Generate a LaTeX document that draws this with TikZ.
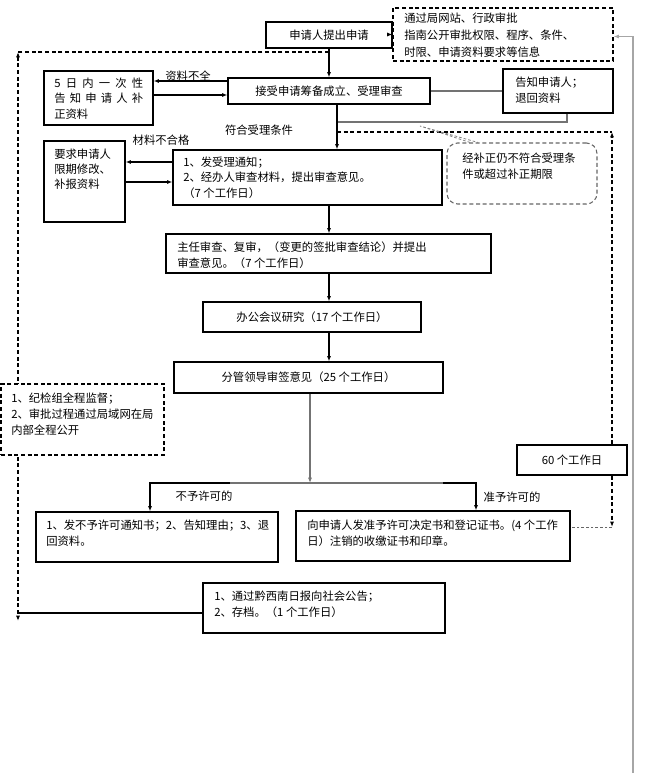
\documentclass[tikz,border=0pt]{standalone}
\usepackage{fontspec}
\setmainfont{Noto Sans CJK SC}
\usetikzlibrary{arrows.meta,calc}
\begin{document}
\begin{tikzpicture}[x=0.75pt,y=-0.75pt, font=\fontsize{8.5pt}{12pt}\selectfont,
  box/.style={draw, line width=0.8pt, fill=white, inner sep=0pt},
  dbox/.style={box, dash pattern=on 3pt off 2pt},
  wh/.style 2 args={minimum width=#1*0.75pt, minimum height=#2*0.75pt},
  txt/.style={anchor=north west, inner sep=0pt, align=left},
  lbl/.style={inner sep=0pt},
  arr/.style={-{Latex[length=4pt,width=3pt]}, line width=0.8pt},
  gline/.style={draw=black!55, line width=0.9pt},
  dline/.style={dash pattern=on 3pt off 2pt, line width=0.8pt}]

\useasboundingbox (0,0) rectangle (653,782);

% helper coordinates
\coordinate (tl) at (18,52);
\coordinate (tj) at (329,52);
\coordinate (bl) at (18,621);
\coordinate (fl) at (18,613);
\coordinate (ax) at (329,0);
\coordinate (dj) at (337,132);
\coordinate (dj2) at (337,122);
\coordinate (dc) at (612,132);
\coordinate (dd) at (612,527);
\coordinate (br) at (310,483);
\coordinate (rb) at (633,773);
\coordinate (tip) at (420,126);

% left dashed loop (behind boxes)
\draw[dline] (tj) -- (tl);
\draw[dline, {Latex[length=4pt,width=3pt]}-{Latex[length=4pt,width=3pt]}] (tl) -- (bl);

% boxes
\node[box, wh={126}{26}] (apply) at (329,35) {申请人提出申请};
\node[dbox, wh={220}{53}] (info) at (503,34.5) {};
\node[txt, font=\fontsize{8.5pt}{12.75pt}\selectfont] at (404,12.5) {通过局网站、行政审批\\指南公开审批权限、程序、条件、\\时限、申请资料要求等信息};

\node[box, wh={202}{26}] (accept) at (329,91) {接受申请筹备成立、受理审查};

\node[box, wh={109}{54}] (five) at (98.5,98) {};
\node[txt, font=\fontsize{8.5pt}{11.6pt}\selectfont] at (54,77.5) {\makebox[66.75pt][s]{5\hfill 日\hfill 内\hfill 一\hfill 次\hfill 性}\\\makebox[66.75pt][s]{告\hfill 知\hfill 申\hfill 请\hfill 人\hfill 补}\\正资料};

\node[box, wh={110}{44}] (tell) at (558,91) {};
\node[txt] at (515,76.5) {告知申请人；\\退回资料};

\node[box, wh={81}{81}] (req) at (84.5,181.5) {};
\node[txt, font=\fontsize{8.5pt}{11.5pt}\selectfont] at (54,148.5) {要求申请人\\限期修改、\\补报资料};

\node[box, wh={269}{55}] (rev1) at (307.5,177.5) {};
\node[txt, font=\fontsize{8.5pt}{11.6pt}\selectfont] at (183,156.5) {1、发受理通知；\\2、经办人审查材料，提出审查意见。\\（7 个工作日）};

\node[box, wh={325}{39}] (dir) at (328.5,253.5) {};
\node[txt] at (177,241.5) {主任审查、复审，（变更的签批审查结论）并提出\\审查意见。（7 个工作日）};

\node[box, wh={218}{30}] (meet) at (312,317) {办公会议研究（17 个工作日）};
\node[box, wh={269}{31}] (lead) at (308.5,377.5) {分管领导审签意见（25 个工作日）};

\node[dbox, wh={163}{71}] (sup) at (82.5,419.5) {};
\node[txt] at (11,392.5) {1、纪检组全程监督；\\2、审批过程通过局域网在局\\内部全程公开};

\node[box, wh={110}{30}] (d60) at (572,460) {60 个工作日};

\node[box, wh={242}{50}] (deny) at (157,537) {};
\node[txt] at (46,519.5) {1、发不予许可通知书；2、告知理由；3、退\\回资料。};

\node[box, wh={274}{50}] (grant) at (433,536) {};
\node[txt] at (307,519.5) {向申请人发准予许可决定书和登记证书。(4 个工作\\日）注销的收缴证书和印章。};

\node[box, wh={242}{50}] (final) at (324,608) {};
\node[txt] at (214,590.5) {1、通过黔西南日报向社会公告；\\2、存档。（1 个工作日）};

\node[box, draw=black!60, dash pattern=on 3pt off 2pt, rounded corners=8pt, wh={150}{61}] (note) at (522,173.5) {};
\node[txt] at (462,152.5) {经补正仍不符合受理条\\件或超过补正期限};

% labels
\node[lbl] (l1) at (188,76) {资料不全};
\node[lbl] (l2) at (259,130) {符合受理条件};
\node[lbl] (l3) at (161,140) {材料不合格};
\node[lbl] (l4) at (204,496) {不予许可的};
\node[lbl] (l5) at (512,497) {准予许可的};

% connectors
\draw[arr] (info.west) -- (apply.east |- info.west);
\draw[arr] (apply) -- (accept);
\draw[arr] ([yshift=7.5pt]accept.west) -- ([yshift=12.75pt]five.east);
\draw[arr] ([yshift=2.25pt]five.east) -- ([yshift=-3pt]accept.west);
\draw[gline] (accept) -- (tell);
\draw[gline] ([xshift=6.75pt]tell.south) |- (dj2);
\draw[arr] (accept.south -| dj) -- (rev1.north -| dj);
\draw[arr] ([yshift=11.625pt]rev1.west) -- ([yshift=14.625pt]req.east);
\draw[arr] ([yshift=-0.375pt]req.east) -- ([yshift=-3.375pt]rev1.west);
\draw[arr] (rev1.south -| ax) -- (dir.north -| ax);
\draw[arr] (dir.south -| ax) -- (meet.north -| ax);
\draw[arr] (meet.south -| ax) -- (lead.north -| ax);
\draw[arr, draw=black!55] (lead.south -| br) -- (br);
\draw[arr] (br) -| ([xshift=-5.25pt]deny.north);
\draw[arr] (br) -| ([xshift=32.25pt]grant.north);
\draw[gline] ([xshift=-60pt]br) -- ([xshift=100pt]br);
\draw[line width=0.8pt] (fl) -- (fl -| final.west);

\draw[dline] (dj) -- (dc);
\draw[dline, arr] ([xshift=30pt]d60.north) -- (dc);
\draw[dline, arr] ([xshift=30pt]d60.south) -- (dd);
\draw[draw=black!60, dash pattern=on 2pt off 1.5pt, line width=0.7pt] (dd) -- (dd -| grant.east);
\draw[draw=black!50, dash pattern=on 2pt off 1.5pt, line width=0.6pt] ([xshift=-39pt]note.north) -- (tip) -- ([xshift=-33pt]note.north);

\draw[arr, draw=black!35, line width=1.3pt] (rb) |- ([yshift=-1.5pt]info.east);
\end{tikzpicture}
\end{document}
